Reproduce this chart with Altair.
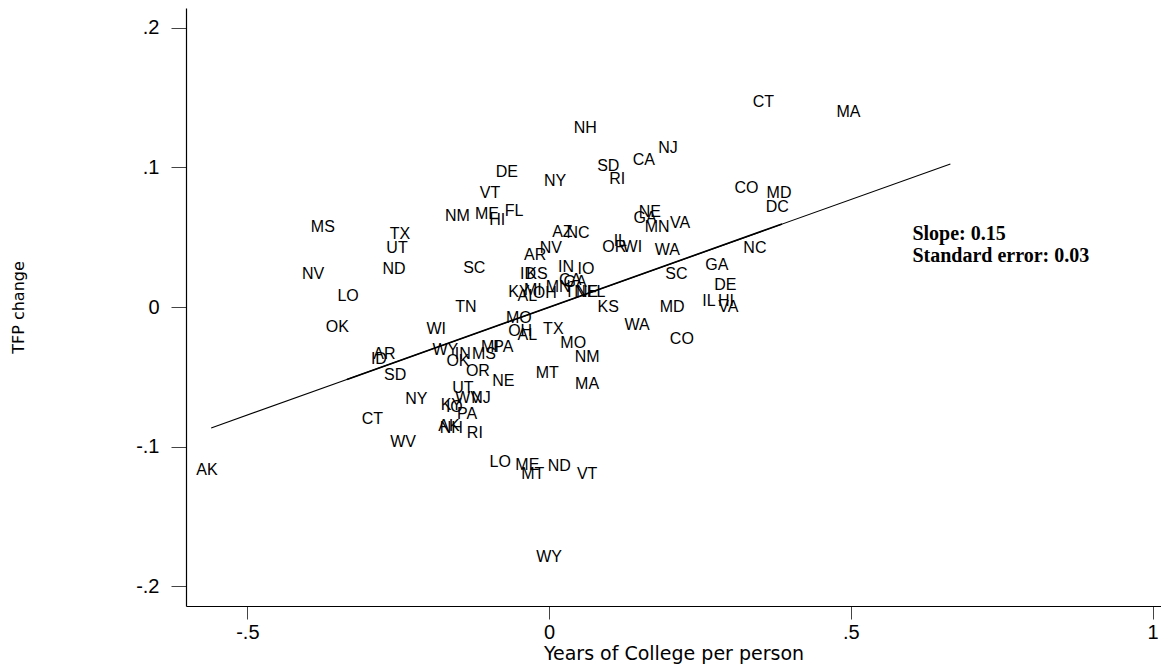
import altair as alt
import pandas as pd

# State labels with (years of college per person, TFP change)
states = ["AK","WY","MS","TX","UT","ND","NV","LO","OK","SC","TN","WI","NM","ME","FL","HI","VT","DE","NY","NH",
          "SD","RI","CA","NJ","CT","MA","CO","MD","DC","NE","GA","MN","VA","WA","NC","GA","SC","DE","IL","HI",
          "VA","KS","MD","WA","CO","IL","OR","WI","AZ","NC","AR","NV","IN","IO","ID","KS","CA","GA","KY","AL",
          "MI","OH","MN","TN","NE","FL","MO","OH","AL","TX","MO","NM","MT","MA","AR","ID","SD","NY","CT","WV",
          "WY","IN","MS","MI","PA","OK","OR","NE","UT","WV","NJ","KY","IO","PA","AK","NH","RI","LO","ME","MT",
          "ND","VT"]
college = [-0.567,0.000,-0.375,-0.247,-0.252,-0.257,-0.391,-0.333,-0.351,-0.124,-0.138,-0.187,-0.152,-0.103,-0.058,-0.086,-0.098,-0.070,0.010,0.060,
           0.098,0.113,0.157,0.197,0.355,0.496,0.327,0.381,0.378,0.167,0.159,0.179,0.217,0.196,0.341,0.278,0.211,0.292,0.265,0.293,
           0.297,0.098,0.204,0.146,0.220,0.118,0.108,0.138,0.022,0.048,-0.023,0.003,0.028,0.061,-0.035,-0.020,0.035,0.043,-0.050,-0.036,
           -0.027,-0.007,0.015,0.043,0.063,0.078,-0.050,-0.048,-0.036,0.007,0.040,0.063,-0.003,0.063,-0.273,-0.282,-0.255,-0.220,-0.293,-0.242,
           -0.172,-0.143,-0.108,-0.098,-0.076,-0.151,-0.118,-0.076,-0.143,-0.134,-0.113,-0.162,-0.157,-0.136,-0.166,-0.162,-0.123,-0.081,-0.036,-0.027,
           0.017,0.063]
tfp = [-0.117,-0.179,0.057,0.052,0.042,0.027,0.024,0.008,-0.014,0.028,0.000,-0.016,0.065,0.067,0.069,0.062,0.082,0.097,0.090,0.128,
       0.101,0.092,0.105,0.114,0.147,0.140,0.085,0.082,0.072,0.068,0.064,0.057,0.060,0.041,0.042,0.030,0.024,0.016,0.004,0.004,
       0.000,0.000,0.000,-0.013,-0.023,0.047,0.043,0.043,0.054,0.053,0.037,0.042,0.029,0.027,0.024,0.024,0.019,0.018,0.011,0.008,
       0.012,0.010,0.014,0.011,0.011,0.011,-0.008,-0.017,-0.020,-0.016,-0.026,-0.036,-0.047,-0.055,-0.034,-0.037,-0.049,-0.066,-0.080,-0.097,
       -0.031,-0.034,-0.034,-0.029,-0.029,-0.039,-0.046,-0.053,-0.058,-0.065,-0.065,-0.070,-0.072,-0.077,-0.085,-0.087,-0.090,-0.111,-0.113,-0.120,
       -0.114,-0.120]

# Fitted line (two overlapping fitted segments)
fit_x = [-0.560, 0.665]
fit_y = [-0.0867, 0.1025]
fit2_x = [-0.335, 0.386]
fit2_y = [-0.0519, 0.0595]

note_lines = ["Slope: 0.15", "Standard error: 0.03"]
note_x = [0.602, 0.602]
note_y = [0.048, 0.0323]

x_ticks = [-0.5, 0, 0.5, 1]
y_ticks = [-0.2, -0.1, 0, 0.1, 0.2]

df = pd.DataFrame({"state": states, "college": college, "tfp": tfp})
fit = pd.DataFrame({"college": fit_x, "tfp": fit_y})
fit2 = pd.DataFrame({"college": fit2_x, "tfp": fit2_y})
notes = pd.DataFrame({"txt": note_lines, "college": note_x, "tfp": note_y})

lab_expr = "(datum.value < 0 ? '-' : '') + replace(format(abs(datum.value), '.1~f'), '0.', '.')"

xscale = alt.Scale(domain=[-0.6017, 1.014], nice=False, zero=False)
yscale = alt.Scale(domain=[-0.2143, 0.2143], nice=False, zero=False)

axis_common = dict(grid=False, domainColor="black", domainWidth=1.2, tickColor="#444", tickWidth=1,
                   labelFont="Liberation Sans", labelFontSize=20, labelColor="black", labelAngle=0,
                   titleColor="black", titleFont="DejaVu Sans", titleFontWeight="normal",
                   titleBaseline="middle")

xenc = alt.X("college:Q", scale=xscale,
             axis=alt.Axis(values=x_ticks, labelExpr=lab_expr, title="Years of College per person",
                           titleFontSize=19, titleY=47, labelPadding=3, tickSize=13, **axis_common))
yenc = alt.Y("tfp:Q", scale=yscale,
             axis=alt.Axis(values=y_ticks, labelExpr=lab_expr, title="TFP change",
                           titleFontSize=16, titleX=-168, labelPadding=12, tickSize=15, **axis_common))

pts = alt.Chart(df).mark_text(font="Liberation Sans", fontSize=16, align="center",
                              baseline="middle", color="black").encode(
    x=xenc, y=yenc, text="state:N")

line = alt.Chart(fit).mark_line(color="black", strokeWidth=1.1).encode(x="college:Q", y="tfp:Q")
line2 = alt.Chart(fit2).mark_line(color="black", strokeWidth=1.6).encode(x="college:Q", y="tfp:Q")

note = alt.Chart(notes).mark_text(font="Liberation Serif", fontSize=20, fontWeight="bold",
                                  align="left", baseline="alphabetic", color="black").encode(
    x="college:Q", y="tfp:Q", text="txt:N")

chart = alt.layer(pts, line, line2, note).properties(
    width=975, height=598,
    background="white",
    autosize=alt.AutoSizeParams(type="none"),
    padding={"left": 178, "top": 0, "right": 0, "bottom": 60},
).configure_view(stroke=None)

chart.save("out.html", embed_options={"renderer": "svg", "actions": False})
